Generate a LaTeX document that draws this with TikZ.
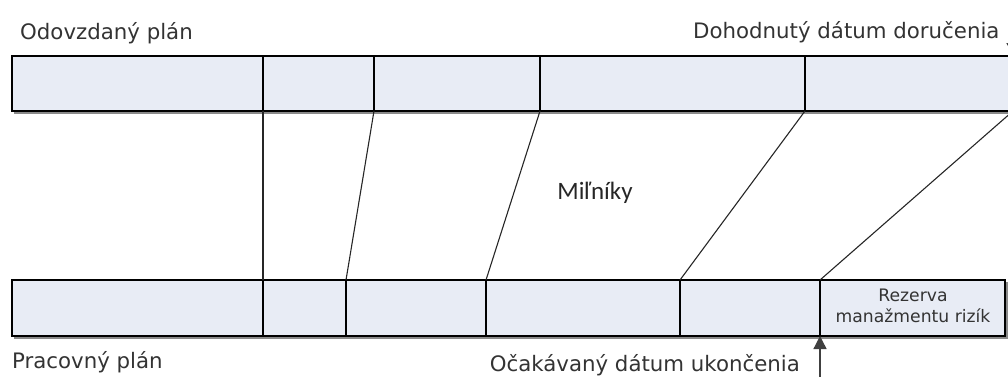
\documentclass[tikz,border=0pt]{standalone}
\usepackage{fontspec}
\setmainfont{DejaVu Sans}
\newfontfamily\calibrilike{Carlito}
\usetikzlibrary{arrows.meta}
\definecolor{barfill}{HTML}{E8ECF5}
\definecolor{barshade}{HTML}{8A8A8A}
\tikzset{
  bar/.style={draw=black, line width=1.3pt, fill=barfill},
  shade/.style={draw=barshade, line width=1.3pt},
  cut/.style={draw=black, line width=1.3pt},
  link/.style={draw=black!85, line width=1.1pt},
  lbl/.style={font=\fontsize{21.3}{25}\selectfont, text=black!80, inner sep=0pt, anchor=base west},
  datearrow/.style={draw=black!75, line width=1.3pt, -{Triangle[length=13pt,width=13pt]}},
}
\begin{document}
\begin{tikzpicture}[x=1pt,y=-1pt]
\useasboundingbox (0,0) rectangle (1008,376);
\clip (0,0) rectangle (1008,376);

% upper bar: delivered plan (runs past the right edge)
\draw[shade] (14,113) -- (1060,113);
\path[bar] (12,56) rectangle (1060,111);
% lower bar: working plan
\draw[shade] (14,338) -- (1007,338) -- (1007,282);
\path[bar] (12,280) rectangle (1005,336);

% cell boundaries of the upper bar
\foreach \n/\x in {1/263,2/374,3/540,4/805,5/1013}{
  \coordinate (tt\n) at (\x,56);
  \coordinate (t\n) at (\x,111);
  \draw[cut] (tt\n) -- (t\n);
}
% cell boundaries of the lower bar
\foreach \n/\x in {1/263,2/346,3/486,4/680,5/820}{
  \coordinate (b\n) at (\x,280);
  \coordinate (bb\n) at (\x,336);
  \draw[cut] (b\n) -- (bb\n);
}

% milestones shifting from the delivered plan to the working plan
\foreach \n in {1,...,5}{ \draw[link] (t\n) -- (b\n); }

% labels
\node[lbl] (odov) at (20,39) {Odovzdaný plán};
\node[lbl] (dohod) at (693,38) {Dohodnutý dátum doručenia};
\node[lbl] (prac) at (12,368) {Pracovný plán};
\node[lbl, anchor=base east] (ocak) at (800,371) {Očakávaný dátum ukončenia};
\node[font=\calibrilike\fontsize{25}{29}\selectfont, text=black!85, inner sep=0pt] (miln) at (595,193) {Miľníky};
\node[font=\fontsize{17.2}{21}\selectfont, text=black!80, align=center, inner sep=0pt] (rez) at (913,306) {Rezerva\\manažmentu rizík};

% date markers
\coordinate (dohodtip) at (1013,28);
\draw[datearrow] (dohodtip) -- (tt5);
\coordinate (ocaktail) at (820,390);
\draw[datearrow] (ocaktail) -- (bb5);
\end{tikzpicture}
\end{document}
